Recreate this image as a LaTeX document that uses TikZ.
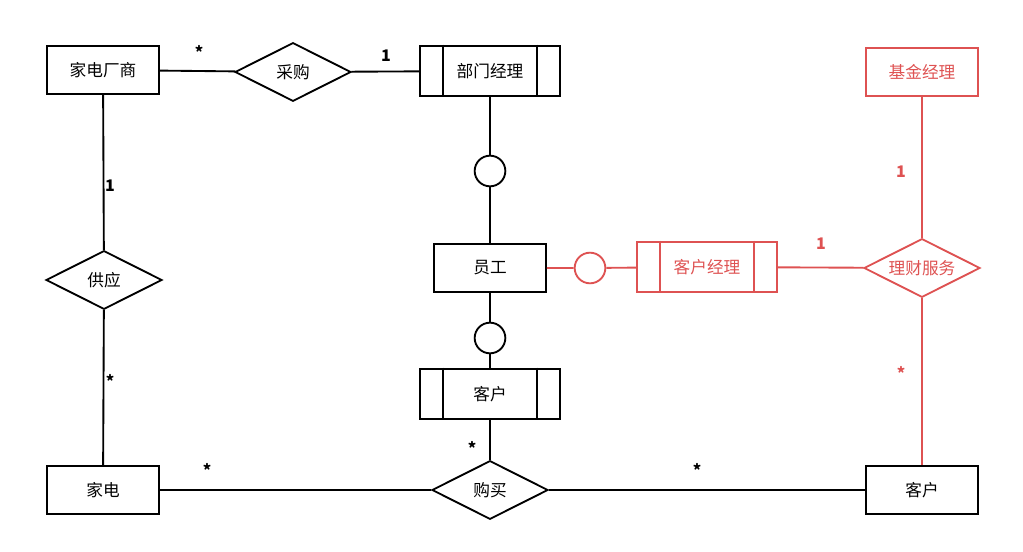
\documentclass[tikz,border=0pt]{standalone}
\usepackage{fontspec}
\setmainfont{Noto Sans CJK SC}
\usetikzlibrary{shapes.geometric}
\definecolor{rd}{RGB}{222,82,82}
\begin{document}
\begin{tikzpicture}[x=0.75pt,y=-0.75pt,line width=1.4pt,
  ent/.style={draw,rectangle,minimum width=84pt,minimum height=36pt,inner sep=0pt,font=\fontsize{12.5}{14}\selectfont},
  went/.style={draw,rectangle,minimum width=105pt,minimum height=38pt,inner sep=0pt,font=\fontsize{12.5}{14}\selectfont},
  rel/.style={draw,diamond,aspect=2,minimum width=87pt,minimum height=44pt,inner sep=0pt,font=\fontsize{12.5}{14}\selectfont},
  circ/.style={draw,circle,minimum size=23pt,inner sep=0pt},
  lab/.style={font=\fontsize{12}{14}\bfseries\selectfont}]
\useasboundingbox (0,0) rectangle (1023,552);
\node[ent] (cs) at (103,70) {家电厂商};
\node[rel] (cg) at (293,72) {采购};
\node[went] (bm) at (490,71) {部门经理};
\node[ent,draw=rd,text=rd] (jj) at (922,72) {基金经理};
\node[circ] (c1) at (490,171) {};
\node[ent] (yg) at (490,268) {员工};
\node[circ,draw=rd] (c2) at (590,268) {};
\node[went,draw=rd,text=rd] (kj) at (707,267) {客户经理};
\node[rel,draw=rd,text=rd] (lc) at (922,268) {理财服务};
\node[rel] (gy) at (104,280) {供应};
\node[circ] (c3) at (490,338) {};
\node[went] (kh) at (490,394) {客户};
\node[ent] (jd) at (103,490) {家电};
\node[rel] (gm) at (490,490) {购买};
\node[ent] (kh2) at (922,490) {客户};
\foreach \n/\c in {bm/black,kh/black,kj/rd}{
  \draw[\c] ([xshift=18pt]\n.north west) -- ([xshift=18pt]\n.south west);
  \draw[\c] ([xshift=-18pt]\n.north east) -- ([xshift=-18pt]\n.south east);}
\draw (cs) -- (cg) -- (bm);
\draw (bm) -- (c1) -- (yg) -- (c3) -- (kh) -- (gm);
\draw (cs) -- (gy) -- (jd) -- (gm) -- (kh2);
\draw[rd] (yg) -- (c2) -- (kj) -- (lc);
\draw[rd] (jj) -- (lc) -- (kh2);
\node[lab] (l1) at (199,52) {*};
\node[lab] (l2) at (386,56) {1};
\node[lab] (l3) at (110,186) {1};
\node[lab] (l4) at (110,381) {*};
\node[lab] (l5) at (472,448) {*};
\node[lab] (l6) at (207,470) {*};
\node[lab] (l7) at (697,470) {*};
\node[lab,text=rd] (l8) at (901,172) {1};
\node[lab,text=rd] (l9) at (821,244) {1};
\node[lab,text=rd] (l10) at (901,373) {*};
\end{tikzpicture}
\end{document}
